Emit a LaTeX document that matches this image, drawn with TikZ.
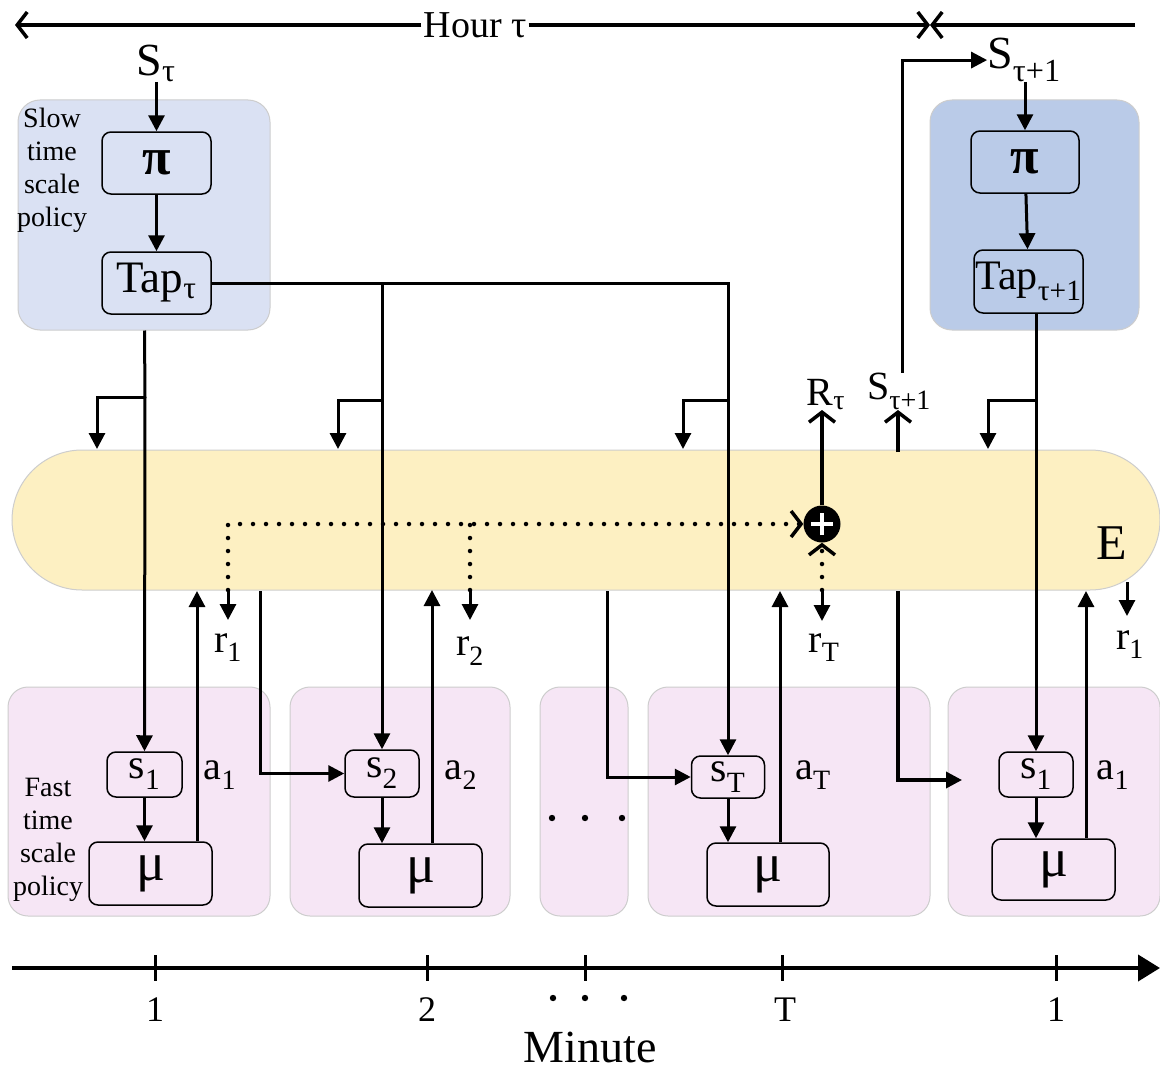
\documentclass[tikz,border=0pt]{standalone}
\usepackage{fontspec}
\setmainfont{Liberation Serif}
\usetikzlibrary{positioning, arrows.meta}
\definecolor{slowA}{RGB}{218,225,243}
\definecolor{slowB}{RGB}{186,203,232}
\definecolor{fastpink}{RGB}{246,230,245}
\definecolor{envyellow}{RGB}{253,240,194}
\definecolor{edgegray}{RGB}{205,205,205}
\newcommand\fsz[1]{\fontsize{#1}{#1}\selectfont}

\begin{document}
\begin{tikzpicture}[
    x=1pt, y=-1pt,
    slowbox/.style={
      draw=edgegray, line width=1pt, rounded corners=22pt,
      minimum height=230pt, inner sep=0pt
    },
    fastbox/.style={
      draw=edgegray, line width=1pt, rounded corners=20pt, fill=fastpink,
      minimum height=229pt, inner sep=0pt
    },
    unit/.style={
      draw, line width=1.5pt, rounded corners=9pt, inner sep=0pt
    },
    lab/.style={font=\fsz{40}, inner sep=0pt},
    arr/.style={-{Triangle[length=16pt,width=16pt]}, line width=3pt},
    oarr/.style={-{Straight Barb[length=10pt,width=26pt]}, line width=3.5pt},
    dotline/.style={line width=4.5pt, line cap=round, dash pattern=on 0pt off 13pt},
  ]
    \useasboundingbox (0,0) rectangle (1160,1073);

    % backgrounds
    \node[slowbox, fill=slowA, minimum width=252pt] (slowA) at (144,215) {};
    \node[slowbox, fill=slowB, minimum width=209pt] (slowB) at (1034.5,215) {};
    \node[draw=edgegray, line width=1pt, fill=envyellow, rounded corners=70pt,
      minimum width=1148pt, minimum height=140pt] (env) at (586,520) {};
    \node[fastbox, minimum width=262pt] (fastA) at (139,801.5) {};
    \node[fastbox, minimum width=220pt] (fastB) at (400,801.5) {};
    \node[fastbox, minimum width=88pt] (fastC) at (584,801.5) {};
    \node[fastbox, minimum width=282pt] (fastD) at (789,801.5) {};
    \node[fastbox, minimum width=212pt] (fastE) at (1054,801.5) {};

    % hour line
    \node[font=\fsz{38}, inner sep=2pt] (hour) at (475,25) {Hour τ};
    \coordinate (hl) at (15,25);
    \coordinate (hr) at (930,25);
    \coordinate (hn) at (1135,25);
    \draw[oarr] (hour.west) -- (hl);
    \draw[oarr] (hour.east) -- (hr);
    \draw[oarr] (hn) -- (hr);

    % slow time scale policy
    \node[lab, font=\fsz{46}, anchor=south] (stA) at (156,82) {S\textsubscript{τ}};
    \node[unit, minimum width=109pt, minimum height=62pt, font=\fsz{52}\bfseries] (piA) at (156.5,163) {π};
    \node[unit, minimum width=109pt, minimum height=62pt, font=\fsz{45}] (tapA) at (156.5,283) {Tap\textsubscript{τ}};
    \node[align=center, font=\fontsize{28}{33}\selectfont, inner sep=0pt] (slowtxt) at (52,170) {Slow\\time\\scale\\policy};
    \draw[arr] (stA.south -| piA) -- (piA.north);
    \draw[arr] (piA) -- (tapA);

    \node[lab, font=\fsz{46}, anchor=south] (stB) at (1024,82) {S\textsubscript{τ+1}};
    \node[unit, minimum width=108pt, minimum height=62pt, font=\fsz{52}\bfseries] (piB) at (1025,162) {π};
    \node[unit, minimum width=109pt, minimum height=63pt, font=\fsz{42}] (tapB) at (1028.5,281.5) {Tap\textsubscript{τ+1}};
    \draw[arr] (stB.south -| piB) -- (piB.north);
    \draw[arr] (piB) -- (tapB);

    % fast time scale policy
    \node[unit, minimum width=75pt, minimum height=45pt, font=\fsz{42}] (sA) at (144.5,774.5) {s\textsubscript{1}};
    \node[unit, minimum width=74pt, minimum height=47pt, font=\fsz{42}] (sB) at (382,773.5) {s\textsubscript{2}};
    \node[unit, minimum width=73pt, minimum height=42pt, font=\fsz{42}] (sC) at (728,777) {s\textsubscript{T}};
    \node[unit, minimum width=74pt, minimum height=45pt, font=\fsz{42}] (sD) at (1036,774.5) {s\textsubscript{1}};
    \node[unit, minimum width=123pt, minimum height=63pt, font=\fsz{54}] (muA) at (150.5,873.5) {μ};
    \node[unit, minimum width=123pt, minimum height=63pt, font=\fsz{54}] (muB) at (420.5,875.5) {μ};
    \node[unit, minimum width=122pt, minimum height=63pt, font=\fsz{54}] (muC) at (768,874.5) {μ};
    \node[unit, minimum width=123pt, minimum height=61pt, font=\fsz{54}] (muD) at (1053.5,869.5) {μ};
    \node[align=center, font=\fontsize{28}{33}\selectfont, inner sep=0pt] (fasttxt) at (48,840) {Fast\\time\\scale\\policy};
    \draw[arr] (sA) -- (sA |- muA.north);
    \draw[arr] (sB) -- (sB |- muB.north);
    \draw[arr] (sC) -- (sC |- muC.north);
    \draw[arr] (sD) -- (sD |- muD.north);
    \foreach \x in {552,585,622} \fill (\x,818) circle (3.2pt);

    % environment
    \node[font=\fsz{50}, inner sep=0pt] (E) at (1112,543) {E};
    \node[circle, fill=black, minimum size=37pt, inner sep=0pt] (plus) at (822,524) {};
    \draw[white, line width=4pt] ([xshift=-11pt]plus.center) -- ([xshift=11pt]plus.center);
    \draw[white, line width=4pt] ([yshift=-11pt]plus.center) -- ([yshift=11pt]plus.center);

    % Tap lines down to the minutes
    \coordinate (bA) at (145,397);
    \coordinate (eA) at (97,449);
    \coordinate (bB) at (382,400);
    \coordinate (eB) at (338,449);
    \coordinate (bC) at (728,400);
    \coordinate (eC) at (683,449);
    \coordinate (bD) at (1036,400);
    \coordinate (eD) at (988,449);
    \draw[line width=3pt] (sA |- slowA.south) -- (bA);
    \draw[arr] (bA) -- (sA.north);
    \draw[arr] (tapA.east) -| (sC.north);
    \draw[arr] (tapA.east -| sB) -- (sB.north);
    \draw[arr] (tapB.south -| sD) -- (sD.north);
    \draw[arr] (bA) -| (eA);
    \draw[arr] (bB) -| (eB);
    \draw[arr] (bC) -| (eC);
    \draw[arr] (bD) -| (eD);

    % actions
    \coordinate (aA) at (197,591);
    \coordinate (aB) at (432,590);
    \coordinate (aC) at (780,591);
    \coordinate (aD) at (1086,591);
    \draw[arr] (aA |- muA.north) -- (aA);
    \draw[arr] (aB |- muB.north) -- (aB);
    \draw[arr] (aC |- muC.north) -- (aC);
    \draw[arr] (aD |- muD.north) -- (aD);
    \node[lab] (laA) at (220,775) {a\textsubscript{1}};
    \node[lab] (laB) at (461,775) {a\textsubscript{2}};
    \node[lab] (laC) at (813,775) {a\textsubscript{T}};
    \node[lab] (laD) at (1113,775) {a\textsubscript{1}};

    % next states
    \coordinate (nA) at (260,591);
    \coordinate (nB) at (607,591);
    \coordinate (nC) at (898,591);
    \coordinate (nD) at (962,780);
    \draw[arr] (nA) |- (sB.west);
    \draw[arr] (nB) |- (sC.west);
    \draw[arr, line width=3.5pt] (nC) |- (nD);

    % rewards
    \coordinate (rA) at (228,590);
    \coordinate (rB) at (470,590);
    \coordinate (rC) at (822,590);
    \coordinate (rD) at (1127,582);
    \node[lab, anchor=north] (lrA) at (228,633) {r\textsubscript{1}};
    \node[lab, anchor=north] (lrB) at (470,636) {r\textsubscript{2}};
    \node[lab, anchor=north] (lrC) at (824,633) {r\textsubscript{T}};
    \node[lab, anchor=north] (lrD) at (1130,630) {r\textsubscript{1}};
    \draw[arr] (rA) -- ++(0,30);
    \draw[arr] (rB) -- ++(0,30);
    \draw[arr] (rC) -- ++(0,31);
    \draw[arr] (rD) -- ++(0,34);
    \draw[dotline] (rA) -- (rA |- plus) -- (plus.west);
    \draw[dotline] (rB) -- (rB |- plus);
    \draw[dotline] (rC) -- (plus.south);
    \draw[oarr] ([xshift=-2pt]plus.west) -- (plus.west);
    \draw[oarr] ([yshift=-2pt]plus.south) -- (plus.south);

    % hour reward and next hour state
    \node[lab, anchor=south] (lR) at (826,410) {R\textsubscript{τ}};
    \node[lab, anchor=south] (snB) at (899,410) {S\textsubscript{τ+1}};
    \coordinate (sU) at (898,452);
    \draw[oarr] (plus.north) -- (plus.north |- lR.south);
    \draw[oarr] (sU) -- (sU |- snB.south);
    \draw[arr] (snB.north -| 902,0) |- (stB.west);

    % minute axis
    \draw[-{Triangle[length=22pt,width=26pt]}, line width=4pt] (12,968) -- (1160,968);
    \foreach \x in {155,427,585,782,1056} \draw[line width=3pt] (\x,955) -- (\x,981);
    \foreach \x/\t/\n in {155/1/kA, 427/2/kB, 785/T/kC, 1056/1/kD}
      \node[font=\fsz{36}, inner sep=0pt] (\n) at (\x,1010) {\t};
    \foreach \x in {553,585,624} \fill (\x,998) circle (3.2pt);
    \node[font=\fsz{46}, inner sep=0pt] (minute) at (590,1047) {Minute};
\end{tikzpicture}
\end{document}
